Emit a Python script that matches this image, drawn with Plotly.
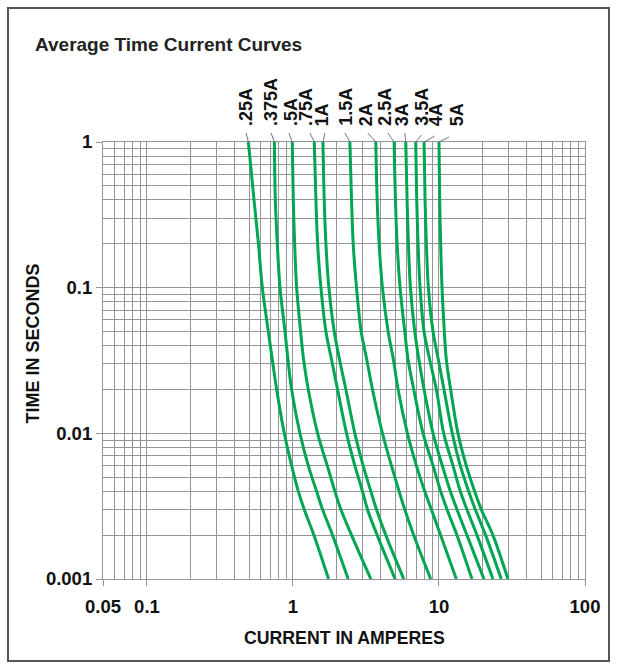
import math
import plotly.graph_objects as go

# ---------------- data ----------------
RATINGS = ['.25A', '.375A', '.5A', '.75A', '1A', '1.5A', '2A', '2.5A', '3A', '3.5A', '4A', '5A']
TIME_S = [1, 0.4, 0.2, 0.1, 0.05, 0.032, 0.02, 0.01, 0.006, 0.004, 0.003, 0.002, 0.001]

I_025 = [0.495, 0.541, 0.580, 0.617, 0.678, 0.722, 0.773, 0.872, 0.979, 1.088, 1.195, 1.392, 1.753]
I_0375 = [0.746, 0.757, 0.781, 0.815, 0.882, 0.924, 0.979, 1.116, 1.273, 1.451, 1.595, 1.867, 2.389]
I_05 = [0.989, 1.005, 1.027, 1.060, 1.128, 1.183, 1.273, 1.475, 1.717, 1.937, 2.129, 2.518, 3.413]
I_075 = [1.399, 1.436, 1.475, 1.554, 1.681, 1.838, 2.020, 2.327, 2.653, 2.993, 3.238, 3.772, 5.007]
I_1 = [1.604, 1.637, 1.681, 1.762, 1.917, 2.085, 2.303, 2.653, 3.025, 3.413, 3.732, 4.322, 5.737]
I_15 = [2.453, 2.518, 2.585, 2.724, 2.931, 3.204, 3.504, 4.101, 4.726, 5.331, 5.829, 6.716, 8.776]
I_2 = [3.693, 3.772, 3.892, 4.101, 4.484, 4.876, 5.248, 6.079, 7.004, 7.986, 8.868, 10.27, 13.14]
I_25 = [4.928, 5.033, 5.167, 5.415, 5.829, 6.143, 6.716, 7.780, 9.104, 10.27, 11.35, 13.28, 16.82]
I_3 = [5.922, 6.047, 6.175, 6.373, 6.823, 7.290, 7.903, 9.104, 10.54, 11.96, 13.28, 15.54, 20.32]
I_35 = [6.931, 7.040, 7.190, 7.420, 7.903, 8.640, 9.594, 10.77, 12.47, 14.00, 15.54, 18.20, 23.40]
I_4 = [7.903, 8.028, 8.199, 8.460, 9.104, 9.900, 10.82, 12.34, 14.00, 15.96, 17.73, 20.86, 26.69]
I_5 = [10.00, 10.11, 10.27, 10.49, 10.88, 11.23, 12.02, 13.49, 15.38, 17.54, 19.48, 23.40, 29.65]
CURRENTS = [I_025, I_0375, I_05, I_075, I_1, I_15, I_2, I_25, I_3, I_35, I_4, I_5]

X_TICKS = [0.05, 0.1, 1, 10, 100]
X_TICK_TEXT = ['0.05', '0.1', '1', '10', '100']
Y_TICKS = [0.001, 0.01, 0.1, 1]
Y_TICK_TEXT = ['0.001', '0.01', '0.1', '1']
X_MINOR = [m * 10 ** e for e in (-2, -1, 0, 1) for m in range(2, 10) if m * 10 ** e > 0.05]
Y_MINOR = [m * 10 ** e for e in (-3, -2, -1) for m in range(2, 10)]

# ---------------- layout geometry / styles ----------------
W, H = 617, 669
ML, MR, MT, MB = 103, 32, 142, 90
PW = W - ML - MR
PH = H - MT - MB
XMIN, XMAX = math.log10(0.05), 2.0

# label offsets (px) relative to top of each curve
LABEL_DX = [-2.3, -3.3, -1.3, -8.3, 0, -4, -9, -9.3, -3, 6, 12.7, 18.7]
LEADER_DX = [-2.3, -3.3, -3.3, -4.3, 2, -5, -8, -6.3, -1, 5.7, 10.7, 10]
LEADER_UP = [9, 9, 9, 9, 9, 9, 9, 9, 9, 7, 6, 5]
LABEL_BOTTOM_UP = 16

FONT = "Liberation Sans, Arial, sans-serif"
GREEN = "#00a651"
GRID = "#959595"
INK = "#111111"


def xfrac(v):
    return (math.log10(v) - XMIN) / (XMAX - XMIN)


def px2fx(px):
    return px / PW


def px2fy(px):
    return px / PH


fig = go.Figure()
for name, cur in zip(RATINGS, CURRENTS):
    fig.add_trace(go.Scatter(
        x=cur, y=TIME_S, mode="lines", name=name,
        line=dict(color=GREEN, width=3, shape="spline", smoothing=1.0),
        hoverinfo="skip", showlegend=False))

annotations = []
shapes = []
for i, name in enumerate(RATINGS):
    top = CURRENTS[i][0]
    fx = xfrac(top)
    annotations.append(dict(
        text=name, xref="paper", yref="paper",
        x=fx + px2fx(LABEL_DX[i]), y=1 + px2fy(LABEL_BOTTOM_UP),
        xanchor="center", yanchor="bottom", textangle=-90, showarrow=False,
        borderpad=0, borderwidth=0,
        font=dict(family=FONT, size=18, color=INK, weight="bold")))
    shapes.append(dict(
        type="line", xref="paper", yref="paper",
        x0=fx, y0=1, x1=fx + px2fx(LEADER_DX[i]), y1=1 + px2fy(LEADER_UP[i]),
        line=dict(color="#666", width=0.9)))

# axis titles
annotations.append(dict(
    text="CURRENT IN AMPERES", xref="paper", yref="paper",
    x=0.5, y=-px2fy(638 - (MT + PH)), xanchor="center", yanchor="middle",
    showarrow=False, font=dict(family=FONT, size=17.7, color=INK, weight="bold")))
annotations.append(dict(
    text="TIME IN SECONDS", xref="paper", yref="paper",
    x=px2fx(32.5 - ML), y=1 - px2fy(344 - MT), xanchor="center", yanchor="middle",
    textangle=-90, showarrow=False,
    font=dict(family=FONT, size=18, color=INK, weight="bold")))

# outer frame
shapes.append(dict(
    type="rect", xref="paper", yref="paper", layer="below",
    x0=px2fx(8 - ML), x1=px2fx(609 - ML), y0=-px2fy(661 - (MT + PH)), y1=1 + px2fy(MT - 8),
    line=dict(color="#555", width=2)))

axis_common = dict(
    type="log", showgrid=True, gridcolor=GRID, gridwidth=1.2,
    showline=True, linecolor=GRID, linewidth=1.2, mirror=True,
    ticks="outside", ticklen=6, tickcolor=GRID, tickwidth=1.2,
    tickfont=dict(family=FONT, size=18.5, color=INK, weight="bold"),
    zeroline=False)

fig.update_layout(
    width=W, height=H, margin=dict(l=ML, r=MR, t=MT, b=MB),
    paper_bgcolor="white", plot_bgcolor="white",
    title=dict(text="Average Time Current Curves", xref="container", yref="container",
               x=35 / W, y=1 - 44 / H, xanchor="left", yanchor="middle",
               font=dict(family=FONT, size=19, color="#222", weight="bold")),
    xaxis=dict(range=[XMIN, XMAX], tickvals=X_TICKS, ticktext=X_TICK_TEXT,
               ticklabelstandoff=5,
               minor=dict(tickvals=X_MINOR, showgrid=True, gridcolor=GRID, gridwidth=1.2, ticks=""),
               **axis_common),
    yaxis=dict(range=[-3, 0], tickvals=Y_TICKS, ticktext=Y_TICK_TEXT,
               minor=dict(tickvals=Y_MINOR, showgrid=True, gridcolor=GRID, gridwidth=1.2, ticks=""),
               **axis_common),
    annotations=annotations, shapes=shapes, showlegend=False)

fig.write_html("out.html")
